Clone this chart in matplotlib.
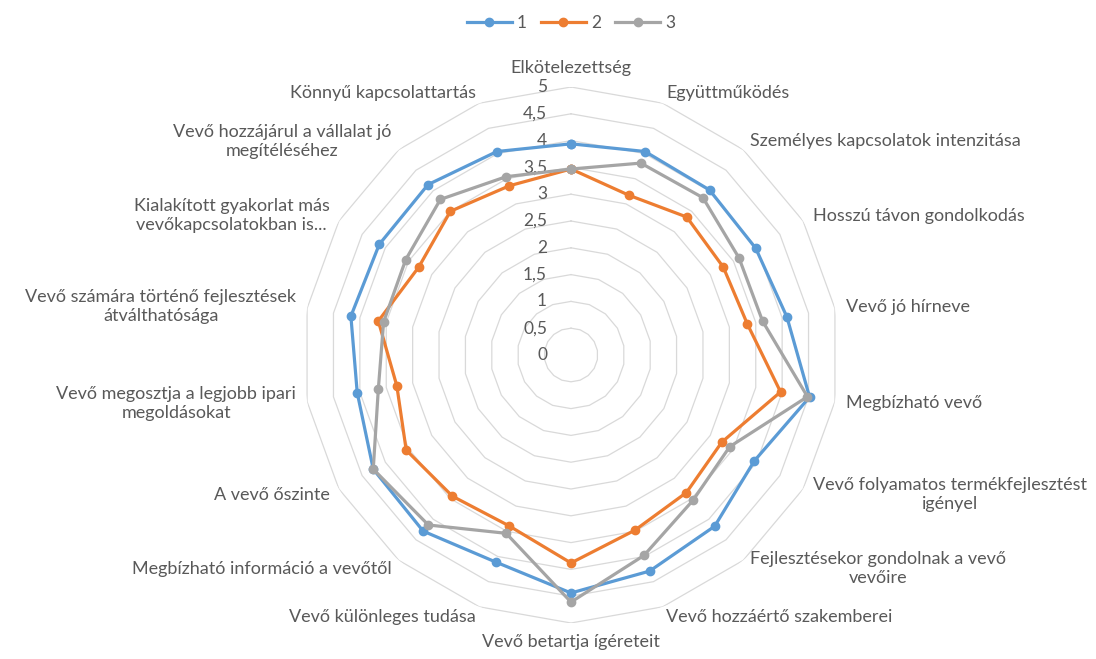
import numpy as np
import matplotlib
matplotlib.use("Agg")
import matplotlib.pyplot as plt
from matplotlib.transforms import offset_copy

# categories, clockwise from the top
categories = [
    "Elkötelezettség",
    "Együttműködés",
    "Személyes kapcsolatok intenzitása",
    "Hosszú távon gondolkodás",
    "Vevő jó hírneve",
    "Megbízható vevő",
    "Vevő folyamatos termékfejlesztést\nigényel",
    "Fejlesztésekor gondolnak a vevő\nvevőire",
    "Vevő hozzáértő szakemberei",
    "Vevő betartja ígéreteit",
    "Vevő különleges tudása",
    "Megbízható információ a vevőtől",
    "A vevő őszinte",
    "Vevő megosztja a legjobb ipari\nmegoldásokat",
    "Vevő számára történő fejlesztések\nátválthatósága",
    "Kialakított gyakorlat más\nvevőkapcsolatokban is...",
    "Vevő hozzájárul a vállalat jó\nmegítéléséhez",
    "Könnyű kapcsolattartás",
]

series_names = ["1", "2", "3"]
values_1 = [3.94, 4.04, 4.02, 3.98, 4.09, 4.52, 3.95, 4.17, 4.29,
            4.44, 4.11, 4.29, 4.26, 4.05, 4.17, 4.13, 4.15, 4.04]
values_2 = [3.47, 3.17, 3.36, 3.28, 3.34, 3.97, 3.25, 3.35, 3.48,
            3.88, 3.39, 3.44, 3.55, 3.30, 3.65, 3.28, 3.50, 3.36]
values_3 = [3.47, 3.81, 3.83, 3.62, 3.63, 4.48, 3.42, 3.54, 3.98,
            4.61, 3.54, 4.14, 4.26, 3.65, 3.55, 3.56, 3.79, 3.54]

tick_values = [0, 0.5, 1, 1.5, 2, 2.5, 3, 3.5, 4, 4.5, 5]
tick_labels = ["0", "0,5", "1", "1,5", "2", "2,5", "3", "3,5", "4", "4,5", "5"]

colors = ["#5B9BD5", "#ED7D31", "#A5A5A5"]
text_color = "#595959"
grid_color = "#D9D9D9"

plt.rcParams['font.family'] = ['Lato', 'DejaVu Sans']

fig = plt.figure(figsize=(10.96, 6.59), dpi=100)
# center at (571, 355) px, radius 268 px
ax = fig.add_axes([(571 - 268) / 1096, (304 - 268) / 659, 536 / 1096, 536 / 659],
                  projection='polar')
ax.set_theta_zero_location('N')
ax.set_theta_direction(-1)
ax.set_ylim(0, 5)
ax.grid(False)
ax.spines['polar'].set_visible(False)
ax.set_xticks([])
ax.set_yticks([])
ax.patch.set_alpha(0)

n = len(categories)
angles = np.arange(n) * 2 * np.pi / n
closed = np.append(angles, angles[0])

# polygon grid rings
for v in tick_values[1:]:
    ax.plot(closed, [v] * (n + 1), color=grid_color, lw=0.9, zorder=1)

# value labels along the top axis
tr = offset_copy(ax.transData, fig=fig, x=-24, y=0, units='dots')
for v, lab in zip(tick_values, tick_labels):
    ax.text(0, v, lab, transform=tr, ha='right', va='center',
            fontsize=12.5, color=text_color)

# category labels
for a, lab in zip(angles, categories):
    s, c = np.sin(a), np.cos(a)
    tr = offset_copy(ax.transData, fig=fig, x=11 * s, y=11 * c, units='dots')
    if s > 0.05:
        ha = 'left'
    elif s < -0.05:
        ha = 'right'
    else:
        ha = 'center'
    if abs(s) < 0.05:
        va = 'bottom' if c > 0 else 'top'
    else:
        va = 'center'
    ax.text(a, 5, lab, transform=tr, ha=ha, va=va, multialignment='center',
            fontsize=13, color=text_color, linespacing=1.25)

lines = []
for vals, col, name in zip([values_1, values_2, values_3], colors, series_names):
    vv = vals + vals[:1]
    ln, = ax.plot(closed, vv, color=col, lw=2.3, marker='o', markersize=6,
                  label=name, zorder=3, clip_on=False)
    lines.append(ln)

fig.legend(handles=lines, loc='center', bbox_to_anchor=(0.521, 0.965), ncol=3,
           frameon=False, fontsize=12.5, handlelength=2.6, columnspacing=0.8,
           handletextpad=0.3, labelcolor=text_color)

fig.savefig("out.png", dpi=100)
